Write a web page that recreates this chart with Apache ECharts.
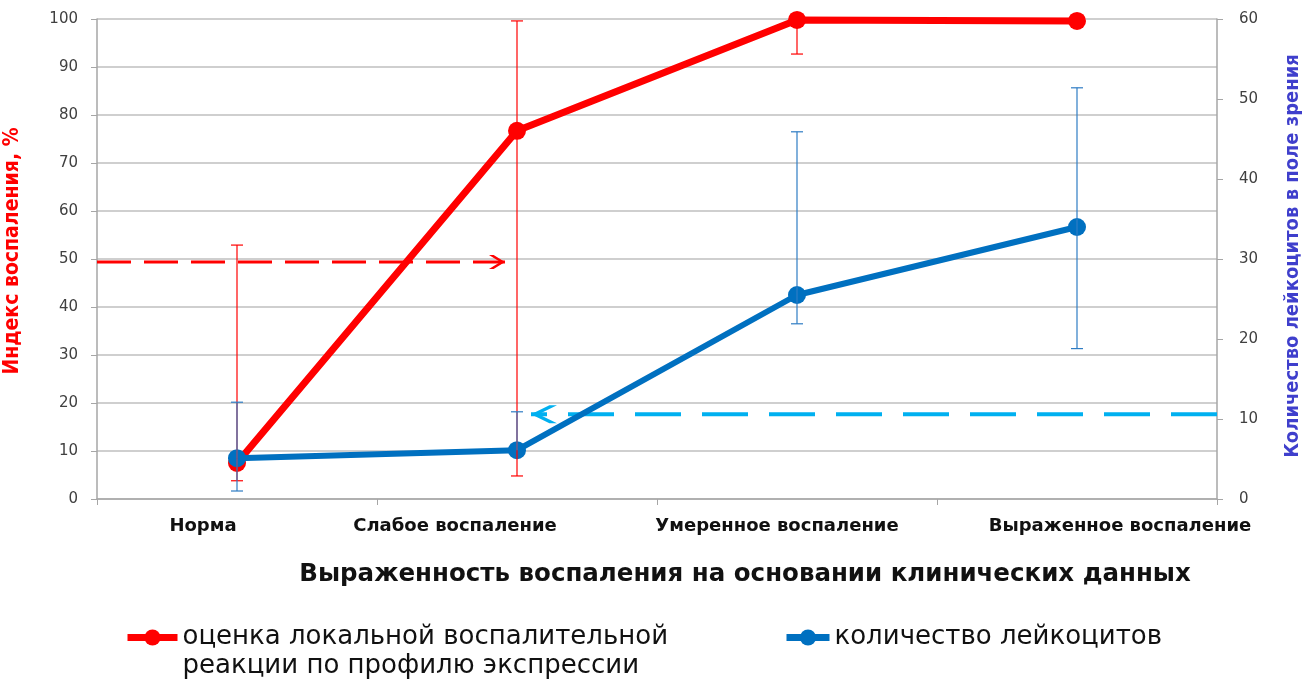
<!DOCTYPE html>
<html>
<head>
<meta charset="utf-8">
<script src="https://cdn.jsdelivr.net/npm/echarts@6/dist/echarts.min.js"></script>
<style>
  html, body { margin: 0; padding: 0; background: #fff; }
  #chart { width: 1314px; height: 684px; }
</style>
</head>
<body>
<div id="chart"></div>
<script>
// категории по оси X
const categories = ['Норма', 'Слабое воспаление', 'Умеренное воспаление', 'Выраженное воспаление'];

// индекс воспаления, % (левая ось)
const indexValues = [7.5, 76.7, 99.8, 99.6];
const indexLow = [3.8, 4.8, 92.7, null];
const indexHigh = [52.9, 99.6, 100, null];

// количество лейкоцитов (правая ось)
const leukoValues = [5.1, 6.1, 25.5, 34.0];
const leukoLow = [1.0, null, 21.9, 18.8];
const leukoHigh = [12.1, 10.9, 45.9, 51.4];

// пунктирные пороги со стрелками
const indexThreshold = 49.4;
const leukoThreshold = 10.6;

const redName = 'оценка локальной воспалительной реакции по профилю экспрессии';
const blueName = 'количество лейкоцитов';

const narrow = "'Liberation Sans Narrow', 'DejaVu Sans Condensed', 'Liberation Sans', sans-serif";
const dejavu = "'DejaVu Sans', Verdana, sans-serif";

// горизонтальные сдвиги подписей категорий (как на оригинале)
const labelShift = [-34, -62, -20, 43];

const chart = echarts.init(document.getElementById('chart'));

function errorBars(low, high) {
  const out = [];
  for (let i = 0; i < low.length; i++) {
    if (high[i] == null && low[i] == null) continue;
    out.push([i, low[i], high[i]]);
  }
  return out;
}

function errRender(color, mid) {
  return function (params, api) {
    const i = api.value(0);
    const lo = api.value(1);
    const hi = api.value(2);
    const m = api.coord([i, mid[i]]);
    const children = [];
    const cap = 6;
    const style = { stroke: color, lineWidth: 1.2 };
    if (!isNaN(hi) && hi != null) {
      const p = api.coord([i, hi]);
      children.push({ type: 'line', shape: { x1: m[0], y1: m[1], x2: p[0], y2: p[1] }, style: style });
      children.push({ type: 'line', shape: { x1: p[0] - cap, y1: p[1], x2: p[0] + cap, y2: p[1] }, style: style });
    }
    if (!isNaN(lo) && lo != null) {
      const p = api.coord([i, lo]);
      children.push({ type: 'line', shape: { x1: m[0], y1: m[1], x2: p[0], y2: p[1] }, style: style });
      children.push({ type: 'line', shape: { x1: p[0] - cap, y1: p[1], x2: p[0] + cap, y2: p[1] }, style: style });
    }
    return { type: 'group', children: children };
  };
}

const arrowRight = 'path://M0,0 L3.5,0 L12,6 L3.5,12 L0,12 L8.5,6 Z';
const arrowLeft = 'path://M12,0 L8.5,0 L0,6 L8.5,12 L12,12 L3.5,6 Z';

chart.setOption({
  animation: false,
  backgroundColor: '#fff',
  grid: { left: 97, right: 97, top: 19, bottom: 185, outerBoundsMode: 'none', containLabel: false },
  legend: [
    {
      data: [redName],
      left: 124, top: 594, padding: 0,
      itemWidth: 50, itemHeight: 20,
      lineStyle: { width: 7 },
      // пустая первая строка — чтобы значок встал напротив первой строки текста
      formatter: () => '\nоценка локальной воспалительной\nреакции по профилю экспрессии',
      textStyle: { fontFamily: dejavu, fontSize: 26, color: '#111', lineHeight: 29 }
    },
    {
      data: [blueName],
      left: 783, top: 623, padding: 0,
      itemWidth: 43, itemHeight: 20,
      lineStyle: { width: 7 },
      textStyle: { fontFamily: dejavu, fontSize: 26, color: '#111', lineHeight: 29 }
    }
  ],
  xAxis: [
    {
      type: 'category',
      data: categories.map((c, i) => ({
        value: c,
        textStyle: { padding: labelShift[i] < 0 ? [0, -2 * labelShift[i], 0, 0] : [0, 0, 0, 2 * labelShift[i]] }
      })),
      boundaryGap: true,
      axisLine: { lineStyle: { color: '#A6A6A6', width: 1.5 } },
      axisTick: { show: true, interval: 0, length: 6, lineStyle: { color: '#A6A6A6' } },
      axisLabel: { interval: 0, hideOverlap: false, margin: 18, fontFamily: dejavu, fontWeight: 'bold', fontSize: 18, color: '#111' },
      splitLine: { show: false },
      name: 'Выраженность воспаления на основании клинических данных',
      nameLocation: 'middle',
      nameGap: 63,
      nameTextStyle: { fontFamily: dejavu, fontWeight: 'bold', fontSize: 24.5, color: '#111', padding: [0, 0, 0, 176] }
    },
    { type: 'value', min: 0, max: 4, show: false }
  ],
  yAxis: [
    {
      type: 'value', min: 0, max: 100, interval: 10,
      axisLine: { show: true, lineStyle: { color: '#A6A6A6', width: 1.5 } },
      axisTick: { show: true, length: 6, lineStyle: { color: '#A6A6A6' } },
      axisLabel: { margin: 19, fontFamily: dejavu, fontSize: 15, color: '#404040' },
      splitLine: { lineStyle: { color: '#BFBFBF', width: 1.5 } },
      name: 'Индекс воспаления, %',
      nameLocation: 'middle', nameRotate: 90, nameGap: 74,
      nameTextStyle: { fontFamily: narrow, fontWeight: 'bold', fontSize: 21, color: '#FF0000', padding: [0, 0, 0, 16] }
    },
    {
      type: 'value', min: 0, max: 60, interval: 10, position: 'right',
      axisLine: { show: true, lineStyle: { color: '#A6A6A6', width: 1.5 } },
      axisTick: { show: true, length: 6, lineStyle: { color: '#A6A6A6' } },
      axisLabel: { margin: 22, fontFamily: dejavu, fontSize: 15, color: '#404040' },
      splitLine: { show: false },
      name: 'Количество лейкоцитов в поле зрения',
      nameLocation: 'middle', nameRotate: 90, nameGap: 66,
      nameTextStyle: { fontFamily: narrow, fontWeight: 'bold', fontSize: 20, color: '#3F3FCC', padding: [0, 0, 0, 6] }
    }
  ],
  series: [
    {
      name: redName, type: 'line', data: indexValues,
      symbol: 'circle', symbolSize: 18,
      lineStyle: { color: '#FF0000', width: 7 },
      itemStyle: { color: '#FF0000' }, z: 3
    },
    {
      name: blueName, type: 'line', yAxisIndex: 1, data: leukoValues,
      symbol: 'circle', symbolSize: 18,
      lineStyle: { color: '#0070C0', width: 6 },
      itemStyle: { color: '#0070C0' }, z: 4
    },
    {
      type: 'custom', name: 'err-red', yAxisIndex: 0,
      data: errorBars(indexLow, indexHigh),
      renderItem: errRender('#FF0000', indexValues), z: 5, silent: true
    },
    {
      type: 'custom', name: 'err-blue', yAxisIndex: 1,
      data: errorBars(leukoLow, leukoHigh),
      renderItem: errRender('#2E7CC4', leukoValues), z: 5, silent: true
    },
    {
      type: 'line', name: 'thr-red', xAxisIndex: 1, yAxisIndex: 0, silent: true,
      data: [
        { value: [0, indexThreshold], symbol: 'none' },
        { value: [1.457, indexThreshold], symbol: arrowRight, symbolSize: [16, 14], symbolOffset: [-8, 0] }
      ],
      lineStyle: { color: '#FF0000', width: 3, type: [34, 13] },
      itemStyle: { color: '#FF0000' }, z: 2
    },
    {
      type: 'line', name: 'thr-blue', xAxisIndex: 1, yAxisIndex: 1, silent: true,
      data: [
        { value: [4, leukoThreshold], symbol: 'none' },
        { value: [1.55, leukoThreshold], symbol: arrowLeft, symbolSize: [26, 18], symbolOffset: [13, 0] }
      ],
      lineStyle: { color: '#00B0F0', width: 4, type: [46, 21] },
      itemStyle: { color: '#00B0F0' }, z: 2
    }
  ]
});
</script>
</body>
</html>
